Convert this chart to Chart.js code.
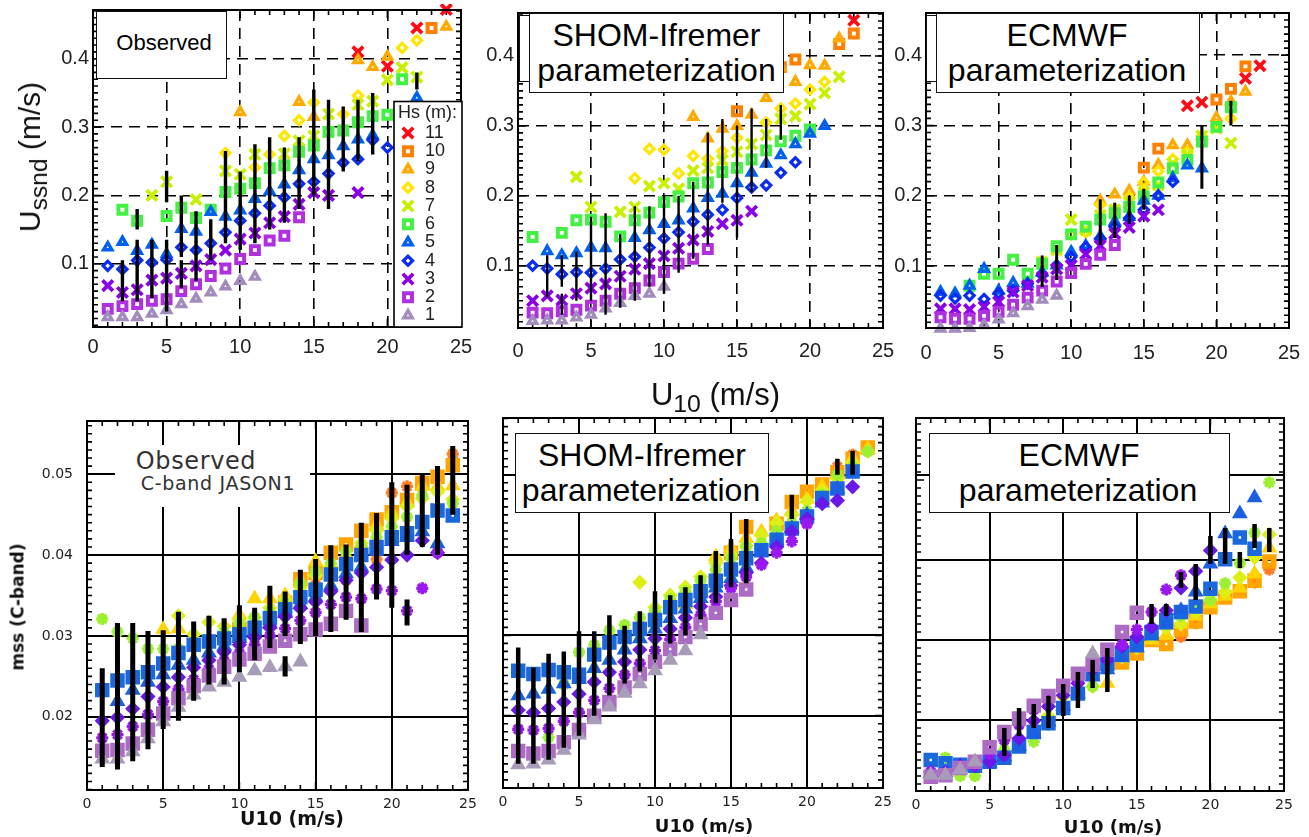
<!DOCTYPE html>
<html><head><meta charset="utf-8">
<script src="https://cdn.jsdelivr.net/npm/chart.js@4"></script>
<style>
html,body{margin:0;padding:0;background:#fff;width:1309px;height:837px;overflow:hidden}
canvas{position:absolute}
.t{position:absolute;white-space:nowrap;text-align:center;color:#000;font-family:'Liberation Sans',Arial,sans-serif;z-index:5;transform:translate(-50%,-50%);line-height:1}
.b{position:absolute;background:#fff;border:1.5px solid #111;box-sizing:border-box;z-index:4}
.w{position:absolute;background:#fff;z-index:4}
sub{font-size:.78em;line-height:0}
</style></head><body>
<script>
const _=null;
const U10=[1,2,3,4,5,6,7,8,9,10,11,12,13,14,15,16,17,18,19,20,21,22,23,24];
const HsLabels=['1','2','3','4','5','6','7','8','9','10','11'];
const xTicks=[0,5,10,15,20,25];
const yTicksTop=[.1,.2,.3,.4];
const yTicksBot=[.02,.03,.04,.05];
const yTicksBotRight=[.02,.03,.04,.0506];
// Top row: Ussnd observed
const aHs1=[.022,.022,.022,.027,.032,.041,.049,.058,.067,.075,.081];
const aHs2=[.034,.038,.041,.046,.048,.060,.070,.082,.093,.107,.120,.134,.141,.168];
const aHs3=[.068,.058,.062,.076,.079,.086,.097,.106,.120,.136,.145,.160,.169,.187,.204,.200,_,.204];
const aHs4=[.097,.092,.105,.102,.106,.124,.120,.130,.146,.163,.174,.185,.197,.217,.220,.232,.248,.253,.281,.270];
const aHs5=[.124,.132,.119,.128,.114,.151,.147,.176,.169,.178,.195,.206,.216,.237,.253,.259,.272,.282,.288,_,_,.343];
const aHs6=[_,.179,.163,_,.170,.182,.167,.179,.205,.210,.218,.240,.244,.264,.273,.293,.295,.307,.316,.318,.370];
const aHs7=[_,_,_,.200,.220,_,.194,_,.236,.231,.260,_,.261,.280,.287,.319,_,.333,.338,.369,.387,.373];
const aHs8=[_,_,_,_,_,_,_,_,.262,_,.241,.260,.287,.310,.336,_,.319,.346,_,_,.416,.427];
const aHs9=[_,_,_,_,_,_,_,_,_,.322,_,_,_,.337,.315,_,_,.398,.388,.403,_,_,_,.447];
const aHs10=[_,_,_,_,_,_,_,_,_,_,_,_,_,_,_,_,_,_,_,_,_,_,.445];
const aHs11=[_,_,_,_,_,_,_,_,_,_,_,_,_,_,_,_,_,.410,_,.389,_,.445,_,.472];
const aBarX=[2,3,3,4,5,5,6,6,7,8,9,10,11,12,13,14,15,16,17,18,19,22];
const aBarLo=[.045,.15,.045,.05,.03,.19,.11,.065,.075,.105,.13,.12,.13,.15,.16,.18,.2,.18,.235,.25,.26,.355];
const aBarHi=[.105,.18,.135,.135,.135,.236,.2,.105,.177,.165,.265,.235,.275,.285,.27,.285,.355,.34,.33,.34,.35,.38];
// Top row: SHOM-Ifremer
const bHs1=[.021,.022,.022,.026,.03,.039,.047,.057,.06,.07];
const bHs2=[.033,.032,.035,.037,.043,.05,.06,.068,.079,.091,.103,.11,.124];
const bHs3=[.05,.057,.051,.06,.068,.074,.085,.095,.103,.114,.125,.137,.149,.16,.165,.178];
const bHs4=[.1,.096,.088,.091,.09,.096,.109,.113,.126,.139,.148,.163,.173,.18,.197,.212,.215,.233,.248];
const bHs5=[_,.121,.115,.118,.126,.125,_,.14,.151,.16,.165,.182,.197,.203,.218,.233,.246,.258,.274,.289,.3];
const bHs6=[.141,_,.147,.165,.166,.163,.142,.165,.176,.191,.199,.218,.219,.234,.24,.252,.265,.278,.286,.295];
const bHs7=[_,_,_,.227,.184,_,.177,.184,.214,.218,.21,.236,.24,.251,.263,.274,.287,.31,.314,.331,.347,.37];
const bHs8=[_,_,_,_,_,_,_,.225,.267,.266,.232,.257,.253,.264,.283,_,.305,.325,.332,.352,.363];
const bHs9=[_,_,_,_,_,_,_,_,_,_,_,.313,.282,.296,.3,.316,.34,.384,.363,.387,.386,.425];
const bHs10=[_,_,_,_,_,_,_,_,_,_,_,_,_,_,.321,_,_,.384,.395,_,_,.417,.432];
const bHs11=[_,_,_,_,_,_,_,_,_,_,_,_,_,_,_,_,_,_,_,_,_,_,.451];
const bBarX=[2,3,3,4,5,6,7,8,9,10,11,12,13,14,15,16,17,18];
const bBarLo=[.055,.07,.03,.05,.05,.03,.04,.05,.07,.06,.09,.11,.13,.19,.14,.205,.24,.28];
const bBarHi=[.115,.115,.06,.12,.17,.175,.145,.185,.185,.2,.2,.22,.29,.31,.3,.325,.31,.33];
// Top row: ECMWF
const cHs1=[.011,.011,.012,.016,.024,.033,.043,.052,.058];
const cHs2=[.027,.025,.025,.029,.035,.045,.055,.065,.078,.09,.103,.116,.13];
const cHs3=[.039,.039,.038,.042,.049,.063,.072,.084,.096,.101,.117,.129,.146,.155,.171,.18];
const cHs4=[.058,.054,.058,.053,.061,.065,.075,.087,.101,.113,.127,.139,.156,.168,.18,.2,.22];
const cHs5=[.063,.061,.072,.096,.065,.076,.075,.091,.101,.12,.129,.142,.163,.17,.193,.2,.225,.243,.239];
const cHs6=[_,_,.072,.089,.089,.109,.089,.103,.128,.145,.156,.166,.175,.184,.199,.219,.239,.251,.277,.298,.326];
const cHs7=[_,_,_,_,_,_,_,.106,.123,.166,.151,.172,.18,.19,.205,.215,.246,.259,.285,.296,.275];
const cHs8=[_,_,_,_,_,_,_,_,_,.145,.148,.187,.18,.198,.219,.235,.252,.262,.285,.299,.31];
const cHs9=[_,_,_,_,_,_,_,_,_,_,_,.193,.202,.207,.22,.244,.272,.272,.285,.311,.334,.348];
const cHs10=[_,_,_,_,_,_,_,_,_,_,_,_,_,_,.24,.267,_,_,_,.337,.352,.384];
const cHs11=[_,_,_,_,_,_,_,_,_,_,_,_,_,_,_,_,_,.328,.333,_,_,.367,.385];
const cBarX=[8,9,12,13,14,15,19,21];
const cBarLo=[.07,.08,.13,.14,.16,.18,.21,.3];
const cBarHi=[.115,.13,.195,.19,.2,.21,.3,.335];
// Bottom row: mss observed
const dHs1=[.0148,.0148,.0157,.0173,.0194,.0212,.0227,.0237,.0243,.0249,.0257,.0261,.0262,.0268];
const dHs2=[.0158,.0159,.0167,.0184,.0204,.0223,.0238,.0251,.0262,.0271,.0278,.0287,.0294,.0302,.0308,.0315,.0331,.0313];
const dHs3=[.0174,.0178,.0188,.0203,.0219,.0234,.0246,.0259,.0269,.0279,.0289,.03,.0309,.0319,.0329,.0339,.0348,.0346,.0358,.0356,.0331,.0359,.0403];
const dHs4=[.0195,.0199,.021,.0225,.0237,.0249,.0261,.027,.028,.0289,.0298,.031,.0324,.0334,.0342,.0355,.0369,.0378,.0385,.0394,.04,.0418,.0403];
const dHs5=[_,.0219,.0233,.0243,.0252,.0264,.027,.0279,.0287,.0297,.0305,.0315,.0328,.0339,.0348,.0362,.0377,.0385,.0405,.0417,.0422,.0429,.0414];
const dHs6=[.0233,.0245,.0249,.0255,.0266,.0279,.0289,.0293,.0297,.0302,.031,.0322,.0333,.0348,.0357,.0376,.0389,.04,.041,.0422,.0427,.0441,.0455,.0449];
const dHs7=[.0321,.0305,.0297,.0284,.0284,.0284,.029,.0295,.0305,.0315,.0323,.033,.034,.0365,.038,.039,.0405,.041,.0422,.0435,.0447,.0474,.0455,.0464];
const dHs8=[_,_,_,_,_,.0325,.0302,.0317,.0312,.032,.0323,.0335,.0345,.036,.0375,.0385,.0395,.0415,.043,.0445,.046,.047,.0478,.0469];
const dHs9=[_,_,_,_,.0308,.0309,_,_,_,.0326,.0346,.0346,.035,.0369,.0392,.039,.04,.0414,.0437,.0453,.0465,.0485,.0485,.0486];
const dHs10=[_,_,_,_,_,_,_,_,_,.0309,_,_,.0341,.037,.0378,.0403,.0413,.043,.0444,.0453,.0468,.0489,.0497,.0511];
const dHs11=[_,_,_,_,_,_,_,_,_,_,_,_,_,_,.0363,.0403,.0369,.0401,.0395,.0477,.0485,.049,.0499,.0525];
const dBarX=[1,2,3,4,5,6,7,8,9,10,11,12,13,13,14,15,16,17,18,19,20,21,21,22,23,24];
const dBarLo=[.0138,.0135,.0145,.016,.0185,.0195,.022,.024,.024,.0255,.027,.0285,.025,.03,.029,.03,.0305,.032,.0305,.0345,.0335,.0313,.04,.041,.04,.045];
const dBarHi=[.026,.0316,.0316,.0306,.0307,.033,.0318,.0325,.0322,.0338,.0335,.0362,.0275,.0355,.0382,.0395,.0412,.0413,.044,.0452,.049,.0345,.0487,.05,.051,.0535];
// Bottom row: SHOM-Ifremer
const eHs1=[.0139,.014,.0145,.0157,.0176,.0195,.0211,.0228,.024,.0256,.0269,.0281,.0301];
const eHs2=[.0156,.0153,.0156,.0167,.0182,.02,.0217,.0235,.0252,.0267,.0283,.0298,.0314,.0328,.0344,.0357];
const eHs3=[.0183,.0182,.0184,.0193,.0204,.0219,.0234,.0251,.0265,.0281,.0295,.031,.0325,.0342,.0359,.0373,.0388,.0403,.0417,.0439];
const eHs4=[.0207,.0204,.0209,.0217,.0227,.0242,.0254,.0267,.0282,.0296,.0308,.0322,.0336,.0348,.0362,.0378,.039,.041,.0429,.0445,.0464,.0468,.0485];
const eHs5=[.0225,.0227,.0233,.024,.0245,.0259,.0269,.0282,.0296,.0308,.0321,.0333,.0346,.0359,.0371,.0384,.0404,.0418,.0433,.045,.0465,.0482,.0504];
const eHs6=[.0256,.0252,.0257,.0254,.0251,.0276,.0291,.0298,.0308,.0319,.0335,.0344,.0355,.0368,.0382,.0396,.0406,.0419,.0433,.0448,.0471,.0483,.0504];
const eHs7=[_,_,.0173,.0239,.0279,.0288,.0306,.0313,.0322,.033,.0345,.0355,.0368,.0382,.0395,.041,.0415,.043,.044,.0455,.0475,.05,.051,.0529];
const eHs8=[_,_,_,_,_,_,_,_,.0366,.0335,.035,.036,.0373,.039,.04,.0412,.0425,.044,.045,.0467,.048,.0495,.0515,.0529];
const eHs9=[_,_,_,_,_,_,_,_,_,_,_,.0339,.0361,.0398,.0409,.0421,.0429,.0443,.0455,.047,.0485,.05,.052,.0532];
const eHs10=[_,_,_,_,_,_,_,_,_,_,_,_,_,_,.0403,.0435,_,.0439,.0466,.0479,.0488,.0503,.052,.0534];
const eHs11=[_,_,_,_,_,_,_,_,_,_,_,_,_,_,_,_,.0426,.0439,.0464,_,_,.051,.0525,.0535];
const eBarX=[1,2,3,4,5,6,7,8,9,10,11,12,13,14,15,16,19,22,23];
const eBarLo=[.014,.014,.0145,.016,.0175,.02,.0225,.024,.0255,.027,.029,.03,.032,.034,.036,.0365,.0445,.05,.05];
const eBarHi=[.0285,.026,.0277,.028,.0305,.0305,.0325,.0312,.033,.0355,.035,.036,.0375,.0405,.042,.0445,.0475,.052,.053];
// Bottom row: ECMWF
const fHs1=[.0131,.0131,.0138,.0148,_,_,_,_,_,_,_,.0283];
const fHs2=[.0129,.0131,.014,.0148,.0166,.0185,.0202,.0218,.023,.0243,.0258,.0269,.0288,.031,.0334];
const fHs3=[.0135,.0133,.0142,.0144,.0158,.0175,.0194,.0213,.0225,.0238,.025,.0269,.0283,.0294,.0313,.0335,.0363,.0381];
const fHs4=[.0135,.0135,.0143,.0143,.0148,.0156,.0177,.0199,.0217,.0231,.0246,.0263,.0275,.0292,.0304,.0316,.0337,.0365,.0386,.0412];
const fHs5=[.0133,.0135,.0142,.0144,.0146,.0154,.0167,.0183,.0198,.0217,.0233,.0254,.0263,.0278,.029,.0305,.0319,.0337,.036,.0395,.0433,.0458,.0478];
const fHs6=[.015,.0146,.0144,.0143,.0148,.0153,.0167,.0185,.0196,.0215,.0233,.0258,.027,.0283,.0295,.031,.0325,.0335,.0342,.0364,.0401,.0428,.0414];
const fHs7=[_,.0153,.013,.013,.0156,.0163,.0167,.0173,.0194,.0215,.0233,.0242,.0263,.028,.0295,.031,.032,.033,.034,.035,.0371,.0396,.0434,.0497];
const fHs8=[_,_,_,_,_,_,_,_,.0205,.0229,.0233,.0242,.0265,.028,.029,.0305,.0315,.032,.0335,.035,.036,.0378,.0403,.0432];
const fHs9=[_,_,_,_,_,_,_,_,_,_,_,_,.0246,.0277,.029,.03,.0306,.032,.033,.0345,.0355,.0365,.0383,.0415];
const fHs10=[_,_,_,_,_,_,_,_,_,_,_,_,_,.0272,.0283,.03,.0295,.0313,.0323,.0341,.0353,.0361,.0374,.0398];
const fHs11=[_,_,_,_,_,_,_,_,_,_,_,_,_,_,_,_,_,.0304,.0321,.034,.0353,.036,.0372,.0388];
const fBarX=[6,7,8,9,10,11,12,13,16,17,18,19,20,21,22,23,24];
const fBarLo=[.0155,.018,.019,.019,.0205,.0215,.024,.0235,.032,.033,.0365,.035,.0395,.0395,.039,.0415,.041];
const fBarHi=[.019,.0215,.022,.023,.0245,.026,.0275,.029,.0345,.0345,.0385,.0395,.043,.044,.041,.0445,.044];

const styleCycle=['triangle','rect','crossRot','rectRot','triangle','rect','crossRot','rectRot','triangle','rect','crossRot'];
const colorsTop=['#a28cbc','#b030e0','#8a00e8','#0a2cf0','#0060f0','#44f044','#c8f000','#ffe600','#ffaa00','#ff8000','#ff0a14'];
const colorsBot=['#a89cb8','#ac6cc4','#9a18f0','#6a18e8','#1a60e0','#1a68dc','#9cf030','#dcf018','#ffd400','#ffa400','#ff7c20'];
const topMarker={triangle:{r:4.8,w:3.4,fill:false},rect:{r:5.6,w:4,fill:false},crossRot:{r:7.4,w:3.8,fill:false},rectRot:{r:4.6,w:3.2,fill:false}};
const botMarker={triangle:{r:9.2,w:0,fill:true},rect:{r:6,w:6,fill:false},star:{r:6,w:3.4,fill:false},rectRot:{r:7.6,w:0,fill:true}};

const panels=[
 {L:93,R:461,T:10,B:327,ymin:.0075,ymax:.4713,series:[aHs1,aHs2,aHs3,aHs4,aHs5,aHs6,aHs7,aHs8,aHs9,aHs10,aHs11],bx:aBarX,bl:aBarLo,bh:aBarHi,top:true,yt:yTicksTop,showY:true,barW:3.4,xpad:8,legend:true},
 {L:518,R:883,T:13,B:328,ymin:.011,ymax:.4614,series:[bHs1,bHs2,bHs3,bHs4,bHs5,bHs6,bHs7,bHs8,bHs9,bHs10,bHs11],bx:bBarX,bl:bBarLo,bh:bBarHi,top:true,yt:yTicksTop,showY:true,barW:2.4,xpad:11},
 {L:926,R:1289,T:13,B:328,ymin:.0118,ymax:.46,series:[cHs1,cHs2,cHs3,cHs4,cHs5,cHs6,cHs7,cHs8,cHs9,cHs10,cHs11],bx:cBarX,bl:cBarLo,bh:cBarHi,top:true,yt:yTicksTop,showY:true,barW:3,xpad:13},
 {L:87,R:468,T:421,B:790,ymin:.01095,ymax:.05658,series:[dHs1,dHs2,dHs3,dHs4,dHs5,dHs6,dHs7,dHs8,dHs9,dHs10,dHs11],bx:dBarX,bl:dBarLo,bh:dBarHi,top:false,yt:yTicksBot,showY:true,barW:5,xpad:6},
 {L:503,R:883,T:418,B:788,ymin:.01099,ymax:.05707,series:[eHs1,eHs2,eHs3,eHs4,eHs5,eHs6,eHs7,eHs8,eHs9,eHs10,eHs11],bx:eBarX,bl:eBarLo,bh:eBarHi,top:false,yt:yTicksBot,showY:false,barW:4.5,xpad:6},
 {L:916,R:1284,T:418,B:791,ymin:.01113,ymax:.05775,series:[fHs1,fHs2,fHs3,fHs4,fHs5,fHs6,fHs7,fHs8,fHs9,fHs10,fHs11],bx:fBarX,bl:fBarLo,bh:fBarHi,top:false,yt:yTicksBotRight,showY:false,barW:4.5,xpad:6}
];

const frameTicks={id:'frameTicks',
 beforeDatasetsDraw(chart,args,o){
  const {ctx,chartArea:a,scales:{x,y}}=chart;
  ctx.save();ctx.strokeStyle='#000';ctx.lineWidth=o.tickW;
  ctx.beginPath();
  for(let v=Math.ceil(x.min);v<=x.max;v+=1){
   const p=x.getPixelForValue(v),l=v%5===0?o.major:o.minor;
   ctx.moveTo(p,a.top);ctx.lineTo(p,a.top+l);ctx.moveTo(p,a.bottom);ctx.lineTo(p,a.bottom-l);
  }
  for(let k=Math.ceil(y.min/o.stepY);k*o.stepY<=y.max;k+=1){
   const p=y.getPixelForValue(k*o.stepY),l=k%o.majorEvery===0?o.major:o.minor;
   ctx.moveTo(a.left,p);ctx.lineTo(a.left+l,p);ctx.moveTo(a.right,p);ctx.lineTo(a.right-l,p);
  }
  ctx.stroke();ctx.restore();
 },
 afterDatasetsDraw(chart,args,o){
  const {ctx,chartArea:a}=chart;
  ctx.save();ctx.strokeStyle='#000';ctx.lineWidth=o.frameW;
  ctx.strokeRect(a.left,a.top,a.right-a.left,a.bottom-a.top);ctx.restore();
 }};
const hsLegend={id:'hsLegend',
 afterDraw(chart,args,o){
  if(!o.show)return;
  const {ctx}=chart;const c=chart.canvas.getBoundingClientRect();
  const X=394-c.left,Y=101.5-c.top,W=68,H=225.5;
  ctx.save();ctx.fillStyle='#fff';ctx.fillRect(X,Y,W,H);
  ctx.strokeStyle='#000';ctx.lineWidth=1.6;ctx.strokeRect(X,Y,W,H);
  ctx.fillStyle='#222';ctx.textBaseline='middle';ctx.textAlign='left';
  ctx.font="18px 'Liberation Sans'";
  ctx.fillText('Hs (m):',X+4,Y+12);
  HsLabels.slice().reverse().forEach((lab,i)=>{
   const idx=10-i,ds=chart.data.datasets[idx+1],ry=Y+31.5+i*18.25;
   Chart.helpers.drawPoint(Object.assign(ctx,{strokeStyle:ds.borderColor,fillStyle:'rgba(0,0,0,0)',lineWidth:ds.borderWidth}),{pointStyle:ds.pointStyle,radius:ds.pointRadius,rotation:0,borderWidth:ds.borderWidth},X+14,ry);
   ctx.fillStyle='#222';ctx.fillText(lab,X+31,ry);
  });
  ctx.restore();
 }};

panels.forEach(P=>{
 const gl=P.L>200&&P.L<600?42:(P.L>900?42:90),gr=22,gt=P.top?6:4,gb=P.top?36:30;
 const cv=document.createElement('canvas');
 const left=P.L-gl,top=P.T-gt,w=gl+(P.R-P.L)+gr,h=gt+(P.B-P.T)+gb;
 cv.width=w;cv.height=h;cv.style.left=left+'px';cv.style.top=top+'px';cv.style.width=w+'px';cv.style.height=h+'px';
 document.body.appendChild(cv);
 const barData=[];
 P.bx.forEach((v,i)=>{barData.push({x:v,y:P.bl[i]},{x:v,y:P.bh[i]},{x:v,y:null});});
 const datasets=[{label:'error bars',data:barData,showLine:true,borderColor:'#000',borderWidth:P.barW,pointRadius:0,spanGaps:false,clip:false}];
 P.series.forEach((arr,i)=>{
  const st=P.top?styleCycle[i]:(styleCycle[i]==='crossRot'?'star':styleCycle[i]);
  const m=(P.top?topMarker:botMarker)[st],col=(P.top?colorsTop:colorsBot)[i];
  datasets.push({label:'Hs '+HsLabels[i],data:arr.map((v,k)=>({x:U10[k],y:v})),pointStyle:st,pointRadius:m.r,pointBorderWidth:m.w,borderWidth:m.w,borderColor:col,pointBorderColor:col,backgroundColor:m.fill?col:'rgba(0,0,0,0)',pointBackgroundColor:m.fill?col:'rgba(0,0,0,0)',showLine:false,clip:false});
 });
 const tickFont=P.top?{family:"'Liberation Sans'",size:20}:{family:"'DejaVu Sans'",size:14};
 new Chart(cv,{type:'scatter',data:{datasets},plugins:[frameTicks,hsLegend],options:{
  responsive:false,animation:false,events:[],
  layout:{autoPadding:false,padding:{top:gt,right:gr,left:0,bottom:0}},
  plugins:{legend:{display:false},tooltip:{enabled:false},
   frameTicks:{tickW:1.6,frameW:2,major:8,minor:5,stepY:P.top?.01:.001,majorEvery:10},
   hsLegend:{show:!!P.legend}},
  scales:{
   x:{type:'linear',min:0,max:25,afterBuildTicks(s){s.ticks=xTicks.map(v=>({value:v}));},afterFit(s){s.height=gb;s.paddingLeft=0;s.paddingRight=0;},
      grid:{color:'#000',lineWidth:P.top?1.6:2,drawTicks:false},border:{display:false,dash:P.top?[11,7]:[]},
      ticks:{color:'#222',font:tickFont,padding:P.xpad,maxRotation:0,autoSkip:false,callback:v=>String(v)}},
   y:{type:'linear',min:P.ymin,max:P.ymax,afterBuildTicks(s){s.ticks=P.yt.map(v=>({value:v}));},afterFit(s){s.width=gl;s.paddingTop=0;s.paddingBottom=0;},
      grid:{color:'#000',lineWidth:P.top?1.6:2,drawTicks:false},border:{display:false,dash:P.top?[11,7]:[]},
      ticks:{display:P.showY,color:'#222',font:tickFont,padding:P.top?4:14,autoSkip:false,callback:v=>P.top?v.toFixed(1):v.toFixed(2)}}
  }}});
});

function box(x0,y0,x1,y1){const d=document.createElement('div');d.className='b';d.style.cssText=`left:${x0}px;top:${y0}px;width:${x1-x0}px;height:${y1-y0}px`;document.body.appendChild(d);}
function white(x0,y0,x1,y1){const d=document.createElement('div');d.className='w';d.style.cssText=`left:${x0}px;top:${y0}px;width:${x1-x0}px;height:${y1-y0}px`;document.body.appendChild(d);}
function text(s,cx,cy,size,extra){const d=document.createElement('div');d.className='t';d.innerHTML=s;d.style.left=cx+'px';d.style.top=cy+'px';d.style.fontSize=size+'px';if(extra)d.style.cssText+=extra;document.body.appendChild(d);return d;}

box(96,11,227,79);text('Observed',164,43,22);
box(519,15,535,82);box(529,13,784,92.5);text('SHOM-Ifremer',656.5,35,32);text('parameterization',656.5,70,32);
box(926,15,942,82);box(936,13,1199.5,92.5);text('ECMWF',1067,35,32);text('parameterization',1067,70,32);
white(115,445,310,507);
text('Observed',196,461,24,"font-family:'DejaVu Sans',sans-serif;color:#333;letter-spacing:.6px");
text('C-band JASON1',218,483,19,"font-family:'DejaVu Sans',sans-serif;color:#333;letter-spacing:.7px");
box(514.5,433,769,513);text('SHOM-Ifremer',642,455,32);text('parameterization',641,490,32);
box(928.5,433,1230,513);text('ECMWF',1079,455,32);text('parameterization',1078,490,32);

text('U<sub style="font-size:.82em">ssnd</sub> (m/s)',30,157,30,"transform:translate(-50%,-50%) rotate(-90deg);color:#111");
text('U<sub style="font-size:.8em">10</sub> (m/s)',715.5,394,31,"color:#111");
text('mss (C-band)',18,607,17,"font-family:'DejaVu Sans',sans-serif;font-weight:bold;transform:translate(-50%,-50%) rotate(-90deg);color:#111");
text('U10 (m/s)',292,818,19,"font-family:'DejaVu Sans',sans-serif;font-weight:bold;color:#111");
text('U10 (m/s)',704,826,18,"font-family:'DejaVu Sans',sans-serif;font-weight:bold;color:#111");
text('U10 (m/s)',1113,827,18,"font-family:'DejaVu Sans',sans-serif;font-weight:bold;color:#111");
</script>
</body></html>
